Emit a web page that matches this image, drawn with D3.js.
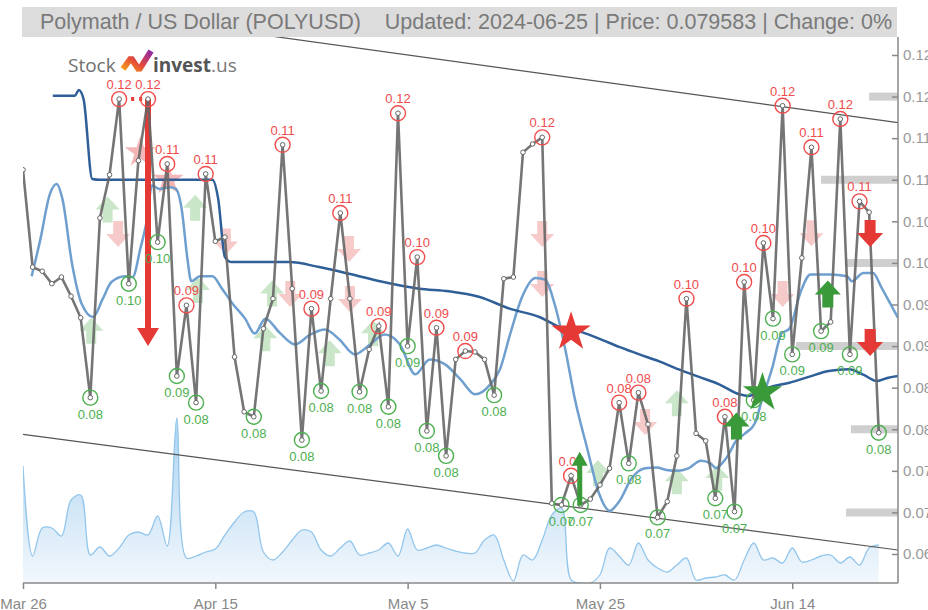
<!DOCTYPE html>
<html>
<head>
<meta charset="utf-8">
<script src="https://cdn.jsdelivr.net/npm/d3@7"></script>
<style>
  body { margin: 0; background: #fff; }
  svg { display: block; }
</style>
</head>
<body>
<div id="chart"></div>
<script>
// daily closes, Mar 26 -> Jun 23 2024
var prices = [0.1112,0.0995,0.0990,0.0975,0.0983,0.0960,0.0934,0.0838,0.1054,0.1106,
  0.1197,0.0975,0.1123,0.1197,0.1025,0.1119,0.0864,0.0949,0.0832,0.1107,
  0.1026,0.1031,0.0887,0.0821,0.0815,0.0921,0.0957,0.1142,0.0969,0.0787,
  0.0945,0.0846,0.0957,0.1060,0.0957,0.0845,0.0896,0.0924,0.0827,0.1180,
  0.0900,0.1007,0.0798,0.0922,0.0768,0.0884,0.0894,0.0893,0.0884,0.0841,
  0.0981,0.0983,0.1133,0.1143,0.1151,0.0711,0.0709,0.0744,0.0709,0.0716,
  0.0733,0.0753,0.0832,0.0759,0.0844,0.0806,0.0694,0.0713,0.0768,0.0957,
  0.0795,0.0786,0.0717,0.0815,0.0701,0.0977,0.0835,0.1024,0.0933,0.1189,
  0.0890,0.1006,0.1139,0.0918,0.0929,0.1173,0.0890,0.1074,0.1061,0.079583];
var volumes = [117,27,55,55,47,83,88,28,36,27,35,48,51,48,67,37,165,25,27,31,
  34,48,61,71,71,31,23,31,43,53,51,33,27,35,42,28,30,33,40,27,
  54,33,35,38,35,32,30,30,43,48,23,2,28,23,43,68,75,3,0,0,
  8,35,27,18,40,23,15,11,18,25,3,5,6,8,3,23,40,23,25,20,
  35,21,23,27,28,20,26,18,35,38];
var highIdx = [10,13,15,17,19,27,30,33,37,39,41,43,46,54,57,62,64,69,73,75,77,79,82,85,87];
var lowIdx = [7,11,14,16,18,24,29,31,35,38,40,42,44,49,56,58,63,66,72,74,76,78,80,83,86,89];

var longMaDays = [3.1,5.4,5.8,6.3,7.2,8,19.7,20.3,21,21.7,27.7,30.8,33.9,37.1,41.2,44.3,47.5,50.6,53.7,55.8,57.8,59.9,62,64.1,66.1,68.2,70.3,72.4,74.5,75.5,76.5,78.1,79.7,81.7,83.8,85.9,87.5,88.8,90,91];
var longMaVals = [0.1201,0.1201,0.1208,0.1197,0.1101,0.1100,0.1100,0.1077,0.1007,0.1001,0.1001,0.0995,0.0987,0.0978,0.0969,0.0966,0.0959,0.0945,0.0935,0.0923,0.0918,0.0909,0.0899,0.0890,0.0882,0.0872,0.0863,0.0854,0.0842,0.0840,0.0846,0.0852,0.0856,0.0863,0.0870,0.0872,0.0865,0.0858,0.0862,0.0864];
var shortMaDays = [0.9,1.8,2.8,3.5,4.1,5.1,6.1,7.3,8.3,9.2,10.6,11.4,12.2,12.9,13.4,14.2,15.3,15.9,16.5,17.1,17.5,18.4,19.7,20.7,21.8,23.1,24.1,25.2,26.7,28.3,29.9,31.4,32.9,34.5,36.1,37.6,39.2,40.8,42.3,43.9,45.5,47,48.6,49.6,50.7,51.9,53.3,54.3,55.3,56.4,57.4,58.7,59.9,61,62,63.3,64.7,65.9,66.9,68.1,69.2,70.5,71.5,72.1,72.7,73.3,74.1,75.1,76.1,76.9,77.9,78.9,79.7,80.9,81.9,83.9,85.7,86.2,87.4,88.4,89.3,90.2,91];
var shortMaVals = [0.0984,0.1028,0.1083,0.1095,0.1077,0.0999,0.0951,0.0935,0.0957,0.0977,0.0984,0.0983,0.1017,0.1053,0.1093,0.1089,0.1091,0.1089,0.1065,0.1005,0.0978,0.0984,0.0984,0.0969,0.0951,0.0933,0.0915,0.0933,0.0916,0.0902,0.0914,0.0920,0.0908,0.0890,0.0902,0.0914,0.0902,0.0866,0.0884,0.0878,0.0860,0.0842,0.0854,0.0872,0.0916,0.0959,0.0982,0.0980,0.0950,0.0896,0.0836,0.0776,0.0723,0.0702,0.0713,0.0741,0.0753,0.0754,0.0751,0.0750,0.0753,0.0762,0.0759,0.0753,0.0759,0.0768,0.0785,0.0795,0.0807,0.0837,0.0873,0.0915,0.0921,0.0966,0.0986,0.0986,0.0984,0.0978,0.0988,0.0988,0.0970,0.0951,0.0934];

var channelDays = [0, 91];
var channelUpper = [0.1314, 0.11686];
var channelLower = [0.07939, 0.06548];

var levelPrices = [0.12, 0.11, 0.10, 0.09, 0.08, 0.07];
var levelFromDay = [88, 83, 85.6, 80.4, 86.1, 85.6];

var weakBuyDays = [8.8, 7.1, 17.9, 18.2, 25.9, 25.2, 31.9, 36.4, 59.8, 68, 68, 72.2];
var weakBuyTips = [0.1080, 0.0934, 0.1082, 0.0983, 0.0979, 0.0925, 0.0907, 0.0931, 0.0763, 0.0847, 0.0753, 0.0757];
var weakSellDays = [9.9, 21.1, 27.8, 33.9, 34, 54, 54, 64.7, 79, 82];
var weakSellTips = [0.1019, 0.1010, 0.0947, 0.1001, 0.0941, 0.1019, 0.0959, 0.0793, 0.0947, 0.1020];
var weakStarDays = [12.2, 15.1];
var weakStarPrices = [0.1133, 0.1100];
var buyDays = [74.2, 83.7];
var buyTips = [0.0820, 0.0979];
var sellDays = [88.1, 88.1];
var sellTips = [0.1019, 0.0888];

var yTicks = [0.125,0.12,0.115,0.11,0.105,0.10,0.095,0.09,0.085,0.08,0.075,0.07,0.065];
var yTickLabels = ["0.12","0.12","0.11","0.11","0.10","0.10","0.09","0.09","0.08","0.08","0.07","0.07","0.06"];
var xTickDays = [0, 20, 40, 60, 80];
var xTickLabels = ["Mar 26","Apr 15","May 5","May 25","Jun 14"];

var width = 928, height = 610;
var start = new Date(2024, 2, 26);
function dayDate(d) { return new Date(start.getTime() + d * 864e5); }

var x = d3.scaleTime().domain([start, dayDate(91)]).range([23, 898]);
var y = d3.scaleLinear().domain([0.065, 0.125]).range([554, 55]);
var yVol = d3.scaleLinear().domain([0, 170]).range([583, 413]);

var svg = d3.select("#chart").append("svg")
  .attr("width", width).attr("height", height)
  .style("font-family", "'Liberation Sans Narrow', 'Liberation Sans', Arial, sans-serif");

var defs = svg.append("defs");
defs.append("clipPath").attr("id", "plot").append("rect")
  .attr("x", 23).attr("y", 37).attr("width", 875).attr("height", 546);
var vg = defs.append("linearGradient").attr("id", "volgrad").attr("x1", 0).attr("x2", 0).attr("y1", 0).attr("y2", 1);
vg.append("stop").attr("offset", "0%").attr("stop-color", "#9ccbee");
vg.append("stop").attr("offset", "100%").attr("stop-color", "#f0f6fc");
var lg = defs.append("linearGradient").attr("id", "logograd").attr("x1", 0).attr("x2", 1).attr("y1", 1).attr("y2", 0);
lg.append("stop").attr("offset", "0%").attr("stop-color", "#f7a21b");
lg.append("stop").attr("offset", "45%").attr("stop-color", "#e4493a");
lg.append("stop").attr("offset", "100%").attr("stop-color", "#8e2aa8");

var plot = svg.append("g").attr("clip-path", "url(#plot)");

// volume
var volArea = d3.area().curve(d3.curveCatmullRom)
  .x(function(d, i) { return x(dayDate(i)); })
  .y0(yVol(0)).y1(function(d) { return yVol(d); });
plot.append("path").datum(volumes).attr("d", volArea).attr("fill", "url(#volgrad)").attr("opacity", 0.85);
plot.append("path").datum(volumes)
  .attr("d", volArea.lineY1())
  .attr("fill", "none").attr("stroke", "#92c6ec").attr("stroke-width", 1.3);

// support / resistance bars
plot.selectAll(".lvl").data(levelPrices).enter().append("line")
  .attr("x1", function(d, i) { return x(dayDate(levelFromDay[i])); })
  .attr("x2", x(dayDate(91)))
  .attr("y1", function(d) { return y(d); }).attr("y2", function(d) { return y(d); })
  .attr("stroke", "#cfcfcf").attr("stroke-width", 8);

// trend channel
[channelUpper, channelLower].forEach(function(c) {
  plot.append("line")
    .attr("x1", x(dayDate(channelDays[0]))).attr("y1", y(c[0]))
    .attr("x2", x(dayDate(channelDays[1]))).attr("y2", y(c[1]))
    .attr("stroke", "#555").attr("stroke-width", 1.2);
});

function arrow(cx, tip, dir, hw, hh, sw, len) {
  var s = dir;
  return "M" + cx + "," + tip +
    "L" + (cx + hw) + "," + (tip + s * hh) +
    "L" + (cx + sw) + "," + (tip + s * hh) +
    "L" + (cx + sw) + "," + (tip + s * len) +
    "L" + (cx - sw) + "," + (tip + s * len) +
    "L" + (cx - sw) + "," + (tip + s * hh) +
    "L" + (cx - hw) + "," + (tip + s * hh) + "Z";
}

// weak signals
plot.selectAll(".wb").data(weakBuyDays).enter().append("path")
  .attr("d", function(d, i) { return arrow(x(dayDate(d)), y(weakBuyTips[i]), 1, 12, 13, 5, 26); })
  .attr("fill", "#c9e6c9");
plot.selectAll(".ws").data(weakSellDays).enter().append("path")
  .attr("d", function(d, i) { return arrow(x(dayDate(d)), y(weakSellTips[i]), -1, 12, 13, 5, 26); })
  .attr("fill", "#f7caca");
var weakStar = d3.symbol().type(d3.symbolStar).size(300);
plot.selectAll(".wst").data(weakStarDays).enter().append("path")
  .attr("d", weakStar)
  .attr("transform", function(d, i) { return "translate(" + x(dayDate(d)) + "," + y(weakStarPrices[i]) + ")"; })
  .attr("fill", "#f3b5b5");

// moving averages
var maLine = d3.line().curve(d3.curveMonotoneX)
  .x(function(d) { return x(dayDate(d[0])); }).y(function(d) { return y(d[1]); });
plot.append("path").datum(d3.zip(shortMaDays, shortMaVals)).attr("d", maLine)
  .attr("fill", "none").attr("stroke", "#6f9fcf").attr("stroke-width", 2.5);
plot.append("path").datum(d3.zip(longMaDays, longMaVals)).attr("d", maLine)
  .attr("fill", "none").attr("stroke", "#2f5f98").attr("stroke-width", 2.5);

// big sell arrow
var bx = x(dayDate(13)), btop = y(prices[13]), btip = y(0.0900);
plot.append("path").attr("d", arrow(bx, btip, -1, 11, 18, 3, btip - btop)).attr("fill", "#e53935");
plot.append("line").attr("x1", x(dayDate(10)) + 12).attr("x2", bx - 3)
  .attr("y1", y(prices[13])).attr("y2", y(prices[13]))
  .attr("stroke", "#e53935").attr("stroke-width", 4).attr("stroke-dasharray", "3,5");

// price line
var priceLine = d3.line().x(function(d, i) { return x(dayDate(i)); }).y(function(d) { return y(d); });
plot.append("path").datum(prices).attr("d", priceLine)
  .attr("fill", "none").attr("stroke", "#666").attr("stroke-width", 2.6).attr("stroke-opacity", 0.9);
plot.selectAll(".pt").data(prices).enter().append("circle")
  .attr("cx", function(d, i) { return x(dayDate(i)); }).attr("cy", function(d) { return y(d); })
  .attr("r", 2.3).attr("fill", "#fff").attr("stroke", "#666").attr("stroke-width", 1);

// high / low labels
highIdx.forEach(function(i) {
  var cx = x(dayDate(i)), cy = y(prices[i]);
  plot.append("circle").attr("cx", cx).attr("cy", cy).attr("r", 7.5)
    .attr("fill", "none").attr("stroke", "#ef4b4b").attr("stroke-width", 1.4);
  plot.append("text").attr("x", cx).attr("y", cy - 10).attr("text-anchor", "middle")
    .attr("font-size", 13).attr("fill", "#ef4b4b").style("font-family", "'Liberation Sans', Arial, sans-serif")
    .text(prices[i].toFixed(2));
});
lowIdx.forEach(function(i) {
  var cx = x(dayDate(i)), cy = y(prices[i]);
  plot.append("circle").attr("cx", cx).attr("cy", cy).attr("r", 7.5)
    .attr("fill", "none").attr("stroke", "#4caf50").attr("stroke-width", 1.4);
  plot.append("text").attr("x", cx).attr("y", cy + 21).attr("text-anchor", "middle")
    .attr("font-size", 13).attr("fill", "#4caf50").style("font-family", "'Liberation Sans', Arial, sans-serif")
    .text(prices[i].toFixed(2));
});

// strong signals
plot.append("path").attr("d", arrow(x(dayDate(57.9)), y(0.0773), 1, 8, 14, 2.5, 54)).attr("fill", "#3a9a3a");
plot.selectAll(".sb").data(buyDays).enter().append("path")
  .attr("d", function(d, i) { return arrow(x(dayDate(d)), y(buyTips[i]), 1, 13, 14, 5.5, 27); })
  .attr("fill", "#3a9a3a");
plot.selectAll(".ss").data(sellDays).enter().append("path")
  .attr("d", function(d, i) { return arrow(x(dayDate(d)), y(sellTips[i]), -1, 13, 14, 5.5, 27); })
  .attr("fill", "#e53935");

var star = d3.symbol().type(d3.symbolStar).size(480);
plot.append("path").attr("d", star)
  .attr("transform", "translate(" + x(dayDate(57)) + "," + y(0.0917) + ")").attr("fill", "#e53935");
plot.append("path").attr("d", star)
  .attr("transform", "translate(" + x(dayDate(76.9)) + "," + y(0.0844) + ")").attr("fill", "#3a9a3a");

// axes
var yAxis = d3.axisRight(y).tickValues(yTicks).tickSize(0)
  .tickFormat(function(d, i) { return yTickLabels[i]; });
var ya = svg.append("g").attr("transform", "translate(898,0)").call(yAxis);
ya.select(".domain").attr("stroke", "#888").attr("stroke-width", 1.5).attr("d", "M0,37V583");
ya.selectAll(".tick line").attr("x1", -6).attr("x2", 0).attr("stroke", "#888").attr("stroke-width", 1.5);
ya.selectAll(".tick text").attr("x", 5).attr("font-size", 15).attr("fill", "#999")
  .style("font-family", "'Liberation Sans', Arial, sans-serif");

var xAxis = d3.axisBottom(x).tickValues(xTickDays.map(dayDate)).tickSize(6)
  .tickFormat(function(d, i) { return xTickLabels[i]; });
var xa = svg.append("g").attr("transform", "translate(0,583)").call(xAxis);
xa.select(".domain").attr("stroke", "#888").attr("stroke-width", 1.5).attr("d", "M23,0H898");
xa.selectAll(".tick line").attr("stroke", "#888").attr("stroke-width", 1.5);
xa.selectAll(".tick text").attr("font-size", 15).attr("fill", "#888").attr("dy", "1.15em");

// title bar
svg.append("rect").attr("x", 22).attr("y", 7).attr("width", 875).attr("height", 30).attr("fill", "#dcdcdc");
svg.append("text").attr("x", 466).attr("y", 29).attr("text-anchor", "middle")
  .attr("font-size", 21.5).attr("fill", "#7a7a7a")
  .text("Polymath / US Dollar (POLYUSD)    Updated: 2024-06-25 | Price: 0.079583 | Change: 0%")
  .style("white-space", "pre");

// logo
var logo = svg.append("g").style("font-family", "'Open Sans', 'Liberation Sans', sans-serif");
logo.append("text").attr("x", 68).attr("y", 72).attr("font-size", 19).attr("fill", "#707070").text("Stock");
logo.append("path").attr("d", "M123,69L131,58L139,70L151,51")
  .attr("fill", "none").attr("stroke", "url(#logograd)").attr("stroke-width", 6).attr("stroke-linejoin", "bevel");
var lt = logo.append("text").attr("x", 153).attr("y", 72).attr("font-size", 19);
lt.append("tspan").attr("font-weight", "bold").attr("fill", "#555").text("invest");
lt.append("tspan").attr("fill", "#777").text(".us");
</script>
</body>
</html>
